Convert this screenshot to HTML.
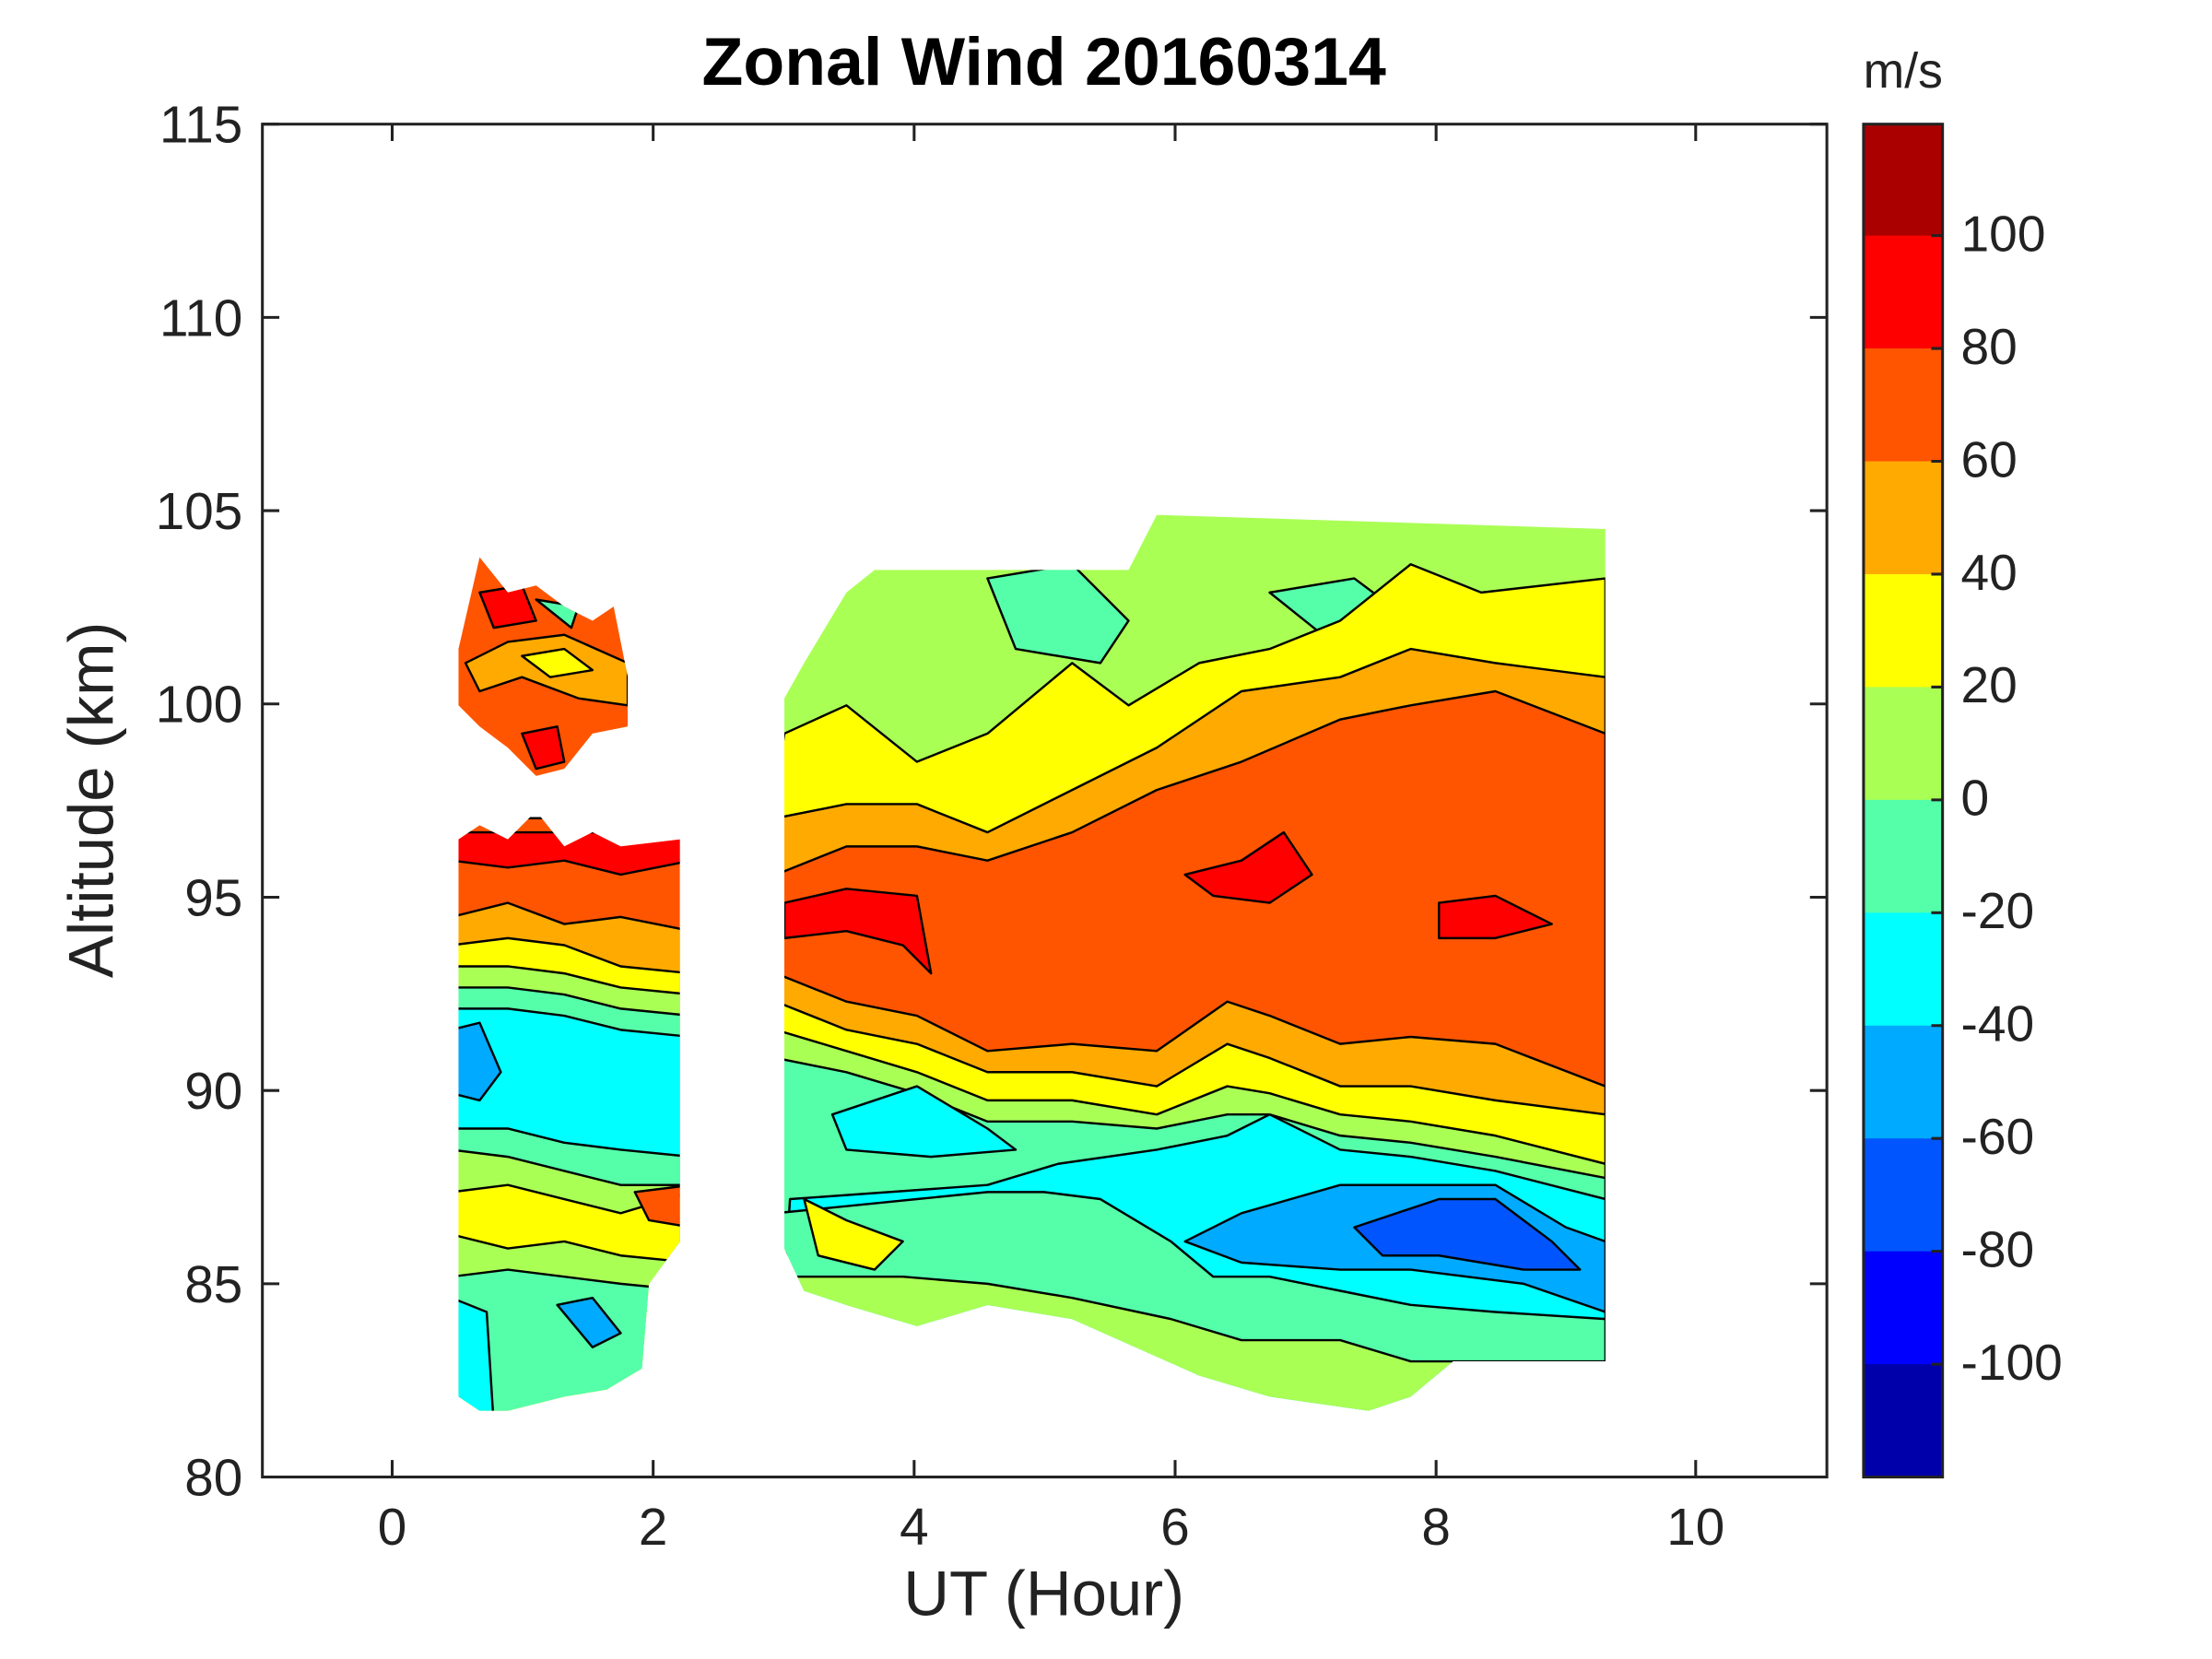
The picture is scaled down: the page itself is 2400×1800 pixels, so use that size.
<!DOCTYPE html>
<html><head><style>html,body{margin:0;padding:0;background:#fff}svg{display:block}</style></head>
<body>
<svg width="2400" height="1800" viewBox="0 0 1568 1176" preserveAspectRatio="none" xmlns="http://www.w3.org/2000/svg" font-family="Liberation Sans, sans-serif">
<defs>
<clipPath id="b2"><polygon points="556,495 570,470 600,420 620,404 800,404 820,365 1138,375 1138,965 1030,965 1000,990 970,1000 900,990 850,975 760,935 700,925 650,940 600,925 570,915 556,885"/></clipPath>
<clipPath id="b1"><polygon points="325,595 340,585 360,595 380,575 400,600 420,590 440,600 482,595 482,880 460,910 455,970 430,985 400,990 360,1000 340,1000 325,990"/></clipPath>
<clipPath id="b0"><polygon points="325,460 340,395 360,420 380,415 400,430 420,440 435,430 445,480 445,515 420,520 400,545 380,550 360,530 340,515 325,500"/></clipPath>
</defs>
<g stroke="#000" stroke-width="1.6" stroke-linejoin="round">
<g clip-path="url(#b2)">
<rect x="550" y="360" width="600" height="650" fill="#aaff55"/>
<polygon fill="#55ffaa" points="700,410 760,400 800,440 780,470 720,460"/>
<polygon fill="#55ffaa" points="900,420 960,410 1000,440 1020,470 950,460"/>
<polygon fill="#ffff00" points="550,560 556,520 600,500 650,540 700,520 760,470 800,500 850,470 900,460 950,440 1000,400 1050,420 1138,410 1138,1010 550,1010"/>
<polygon fill="#ffaa00" points="550,580 600,570 650,570 700,590 760,560 820,530 880,490 950,480 1000,460 1060,470 1138,480 1138,1010 550,1010"/>
<polygon fill="#ff5500" points="550,620 600,600 650,600 700,610 760,590 820,560 880,540 950,510 1000,500 1060,490 1138,520 1138,1010 550,1010"/>
<polygon fill="#ff0000" points="556,640 600,630 650,635 660,690 640,670 600,660 556,665"/>
<polygon fill="#ff0000" points="840,620 880,610 910,590 930,620 900,640 860,635"/>
<polygon fill="#ff0000" points="1020,640 1060,635 1100,655 1060,665 1020,665"/>
<polygon fill="#ffaa00" points="550,690 600,710 650,720 700,745 760,740 820,745 870,710 900,720 950,740 1000,735 1060,740 1138,770 1138,1010 550,1010"/>
<polygon fill="#ffff00" points="550,710 600,730 650,740 700,760 760,760 820,770 870,740 900,750 950,770 1000,770 1060,780 1138,790 1138,1010 550,1010"/>
<polygon fill="#aaff55" points="550,730 600,745 650,760 700,780 760,780 820,790 870,770 900,775 950,790 1000,795 1060,805 1138,825 1138,1010 550,1010"/>
<polygon fill="#55ffaa" points="550,750 600,760 650,775 700,795 760,795 820,800 870,790 900,790 950,805 1000,810 1060,820 1138,835 1138,1010 550,1010"/>
<polygon fill="#00ffff" points="590,790 650,770 700,800 720,815 660,820 600,815"/>
<polygon fill="#00ffff" points="750,825 820,815 870,805 900,790 950,815 1000,820 1060,830 1138,850 1138,1010 550,1010 560,850 700,840"/>
<polygon fill="#00aaff" points="840,880 880,860 950,840 1000,840 1060,840 1110,870 1138,880 1138,930 1080,910 1000,900 950,900 880,895"/>
<polygon fill="#0055ff" points="960,870 1020,850 1060,850 1100,880 1120,900 1080,900 1020,890 980,890"/>
<polygon fill="#55ffaa" points="550,860 600,855 650,850 700,845 740,845 780,850 830,880 860,905 900,905 950,915 1000,925 1060,930 1138,935 1138,1010 550,1010"/>
<polygon fill="#ffff00" points="570,850 600,865 640,880 620,900 580,890"/>
<polygon fill="#aaff55" points="550,905 640,905 700,910 760,920 830,935 880,950 950,950 1000,965 1138,965 1138,1010 550,1010"/>
</g>
<g clip-path="url(#b1)">
<rect x="320" y="580" width="170" height="430" fill="#ff5500"/>
<polygon fill="#ff0000" points="320,590 490,590 490,610 440,620 400,610 360,615 320,610"/>
<polygon fill="#ffaa00" points="320,650 360,640 400,655 440,650 490,660 490,1010 320,1010"/>
<polygon fill="#ffff00" points="320,670 360,665 400,670 440,685 490,690 490,1010 320,1010"/>
<polygon fill="#aaff55" points="320,685 360,685 400,690 440,700 490,705 490,1010 320,1010"/>
<polygon fill="#55ffaa" points="320,700 360,700 400,705 440,715 490,720 490,1010 320,1010"/>
<polygon fill="#00ffff" points="320,715 360,715 400,720 440,730 490,735 490,1010 320,1010"/>
<polygon fill="#00aaff" points="320,730 340,725 355,760 340,780 320,775"/>
<polygon fill="#55ffaa" points="320,800 360,800 400,810 440,815 490,820 490,1010 320,1010"/>
<polygon fill="#aaff55" points="320,815 360,820 400,830 440,840 490,840 490,1010 320,1010"/>
<polygon fill="#ffff00" points="320,845 360,840 400,850 440,860 490,845 490,1010 320,1010"/>
<polygon fill="#ff5500" points="450,845 490,840 490,870 460,865"/>
<polygon fill="#aaff55" points="320,875 360,885 400,880 440,890 490,895 490,1010 320,1010"/>
<polygon fill="#55ffaa" points="320,905 360,900 400,905 440,910 490,915 490,1010 320,1010"/>
<polygon fill="#00ffff" points="320,920 345,930 350,1010 320,1010"/>
<polygon fill="#00aaff" points="395,925 420,920 440,945 420,955"/>
</g>
<g clip-path="url(#b0)">
<rect x="320" y="385" width="130" height="170" fill="#ff5500"/>
<polygon fill="#ffaa00" points="360,455 400,450 445,470 445,500 410,495 370,480 340,490 330,470"/>
<polygon fill="#ffff00" points="370,465 400,460 420,475 390,480"/>
<polygon fill="#ff0000" points="340,420 370,415 380,440 350,445"/>
<polygon fill="#ff0000" points="370,520 395,515 400,540 380,545"/>
<polygon fill="#55ffaa" points="380,425 410,430 405,445"/>
</g>
</g>
<!-- axes -->
<rect x="186" y="88" width="1109" height="959" fill="none" stroke="#222" stroke-width="2"/>
<g stroke="#222" stroke-width="2">
<path d="M278,1047v-12M463,1047v-12M648,1047v-12M833,1047v-12M1018,1047v-12M1202,1047v-12M278,88v12M463,88v12M648,88v12M833,88v12M1018,88v12M1202,88v12"/>
<path d="M186,88h12M186,225h12M186,362h12M186,499h12M186,636h12M186,773h12M186,910h12M1295,88h-12M1295,225h-12M1295,362h-12M1295,499h-12M1295,636h-12M1295,773h-12M1295,910h-12"/>
</g>
<g font-size="37" fill="#222" text-anchor="end">
<text x="172" y="101">115</text><text x="172" y="238">110</text><text x="172" y="375">105</text><text x="172" y="512">100</text><text x="172" y="649">95</text><text x="172" y="786">90</text><text x="172" y="923">85</text><text x="172" y="1060">80</text>
</g>
<g font-size="37" fill="#222" text-anchor="middle">
<text x="278" y="1095">0</text><text x="463" y="1095">2</text><text x="648" y="1095">4</text><text x="833" y="1095">6</text><text x="1018" y="1095">8</text><text x="1202" y="1095">10</text>
</g>
<text x="740" y="1145" font-size="45" fill="#222" text-anchor="middle">UT (Hour)</text>
<text transform="translate(80,567) rotate(-90)" font-size="45" fill="#222" text-anchor="middle">Altitude (km)</text>
<text x="740" y="60" font-size="48" font-weight="bold" fill="#000" text-anchor="middle">Zonal Wind 20160314</text>
<!-- colorbar -->
<rect x="1321" y="88" width="56" height="80" fill="#aa0000"/>
<rect x="1321" y="167" width="56" height="81" fill="#ff0000"/>
<rect x="1321" y="247" width="56" height="81" fill="#ff5500"/>
<rect x="1321" y="327" width="56" height="81" fill="#ffaa00"/>
<rect x="1321" y="407" width="56" height="81" fill="#ffff00"/>
<rect x="1321" y="487" width="56" height="81" fill="#aaff55"/>
<rect x="1321" y="567" width="56" height="81" fill="#55ffaa"/>
<rect x="1321" y="647" width="56" height="81" fill="#00ffff"/>
<rect x="1321" y="727" width="56" height="81" fill="#00aaff"/>
<rect x="1321" y="807" width="56" height="81" fill="#0055ff"/>
<rect x="1321" y="887" width="56" height="81" fill="#0000ff"/>
<rect x="1321" y="967" width="56" height="80" fill="#0000aa"/>
<rect x="1321" y="88" width="56" height="959" fill="none" stroke="#222" stroke-width="2"/>
<g stroke="#222" stroke-width="2"><path d="M1377,167h-8M1377,247h-8M1377,327h-8M1377,407h-8M1377,487h-8M1377,567h-8M1377,647h-8M1377,727h-8M1377,807h-8M1377,887h-8M1377,967h-8"/></g>
<g font-size="36" fill="#222">
<text x="1390" y="178">100</text><text x="1390" y="258">80</text><text x="1390" y="338">60</text><text x="1390" y="418">40</text><text x="1390" y="498">20</text><text x="1390" y="578">0</text><text x="1390" y="658">-20</text><text x="1390" y="738">-40</text><text x="1390" y="818">-60</text><text x="1390" y="898">-80</text><text x="1390" y="978">-100</text>
</g>
<text x="1349" y="62" font-size="35" fill="#222" text-anchor="middle">m/s</text>
</svg>
</body></html>
